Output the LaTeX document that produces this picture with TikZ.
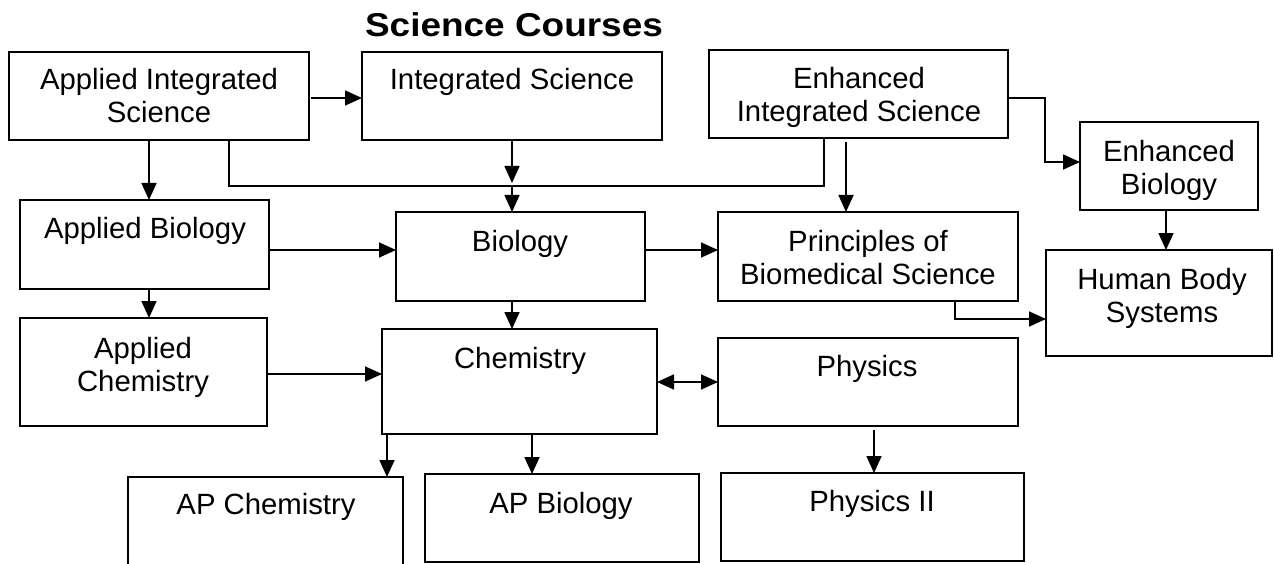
\documentclass[tikz,border=0pt]{standalone}
\usepackage{fontspec}
\setmainfont{Liberation Sans}
\usepackage{graphicx}
\usetikzlibrary{arrows.meta}
\newcommand\coursebox[5]{\node[box, minimum width={(#4)-(#2)}, minimum height={(#5)-(#3)}] (#1) at ({((#2)+(#4))/2},{((#3)+(#5))/2}) {};}
\begin{document}
\begin{tikzpicture}[x=1pt,y=-1pt,
  box/.style={draw, rectangle, line width=2.2pt, inner sep=0pt, outer sep=0pt},
  txt/.style={anchor=north, inner sep=0pt, align=center, font=\fontsize{29.3}{33.5}\selectfont},
  conn/.style={line width=1.7pt},
  tip/.tip={Triangle[length=17pt,width=15pt]},
  arr/.style={conn, -tip},
  darr/.style={conn, tip-tip}]
\useasboundingbox (0,0) rectangle (1274,564);
\clip (0,0) rectangle (1274,564);
\fill[white] (0,0) rectangle (1274,564);
% title
\node[anchor=base, inner sep=0pt] (title) at (514,37) {\fontsize{33}{38}\selectfont\bfseries\scalebox{1.12}[1]{Science Courses}};
% boxes
\coursebox{ais}{9}{52}{309}{140}
\coursebox{is}{362}{52}{662}{140}
\coursebox{eis}{709}{50}{1008}{138}
\coursebox{eb}{1080}{122}{1258}{210}
\coursebox{ab}{20}{200}{269}{289}
\coursebox{bio}{396}{212}{645}{301}
\coursebox{pbs}{718}{212}{1018}{301}
\coursebox{hbs}{1046}{250}{1272}{356}
\coursebox{ac}{20}{318}{267}{426}
\coursebox{chem}{382}{329}{657}{434}
\coursebox{phys}{718}{338}{1018}{426}
\coursebox{apc}{128}{477}{403}{600}
\coursebox{apb}{425}{474}{699}{562}
\coursebox{ptwo}{721}{473}{1024}{561}
% texts
\node[txt] (t-ais) at (159,68) {Applied Integrated\\Science};
\node[txt] (t-is) at (512,68) {Integrated Science};
\node[txt] (t-eis) at (859,67) {Enhanced\\Integrated Science};
\node[txt] (t-eb) at (1169,140) {Enhanced\\Biology};
\node[txt] (t-ab) at (145,217) {Applied Biology};
\node[txt] (t-bio) at (520,230) {Biology};
\node[txt] (t-pbs) at (868,230) {Principles of\\Biomedical Science};
\node[txt] (t-hbs) at (1162,268) {Human Body\\Systems};
\node[txt] (t-ac) at (143,337) {Applied\\Chemistry};
\node[txt] (t-chem) at (520,347) {Chemistry};
\node[txt] (t-phys) at (867,355) {Physics};
\node[txt] (t-apc) at (266,493) {AP Chemistry};
\node[txt] (t-apb) at (561,492) {AP Biology};
\node[txt] (t-ptwo) at (872,490) {Physics II};
% helper coordinates
\coordinate (xa) at (149,0);
\coordinate (jl) at (229,186);
\coordinate (jm) at (512,186);
\coordinate (jr) at (824,186);
\coordinate (xe) at (846,0);
\coordinate (k1) at (1045,98);
\coordinate (k2) at (1045,162);
\coordinate (xb) at (1166,0);
\coordinate (h1) at (0,250);
\coordinate (q) at (955,319);
\coordinate (h2) at (0,374);
\coordinate (h3) at (0,382);
\coordinate (xc) at (387,0);
\coordinate (xd) at (532,0);
\coordinate (xf) at (874,0);
\coordinate (h0) at (0,98);
% connectors
\draw[arr, shorten <=2pt] (ais.east |- h0) -- (is.west |- h0);
\draw[arr] (ais.south -| xa) -- (ab.north -| xa);
\draw[conn] (ais.south -| jl) -- (jl) -- (jr) -- (eis.south -| jr);
\draw[arr, shorten >=3pt] (is.south) -- (jm);
\draw[arr] (jm) -- (bio.north -| jm);
\draw[arr, shorten <=4pt] (eis.south -| xe) -- (pbs.north -| xe);
\draw[arr] (eis.east |- k1) -- (k1) -- (k2) -- (eb.west |- k2);
\draw[arr] (eb.south -| xb) -- (hbs.north -| xb);
\draw[arr] (ab.east |- h1) -- (bio.west |- h1);
\draw[arr] (bio.east |- h1) -- (pbs.west |- h1);
\draw[arr] (pbs.south -| q) -- (q) -- (hbs.west |- q);
\draw[arr] (ab.south -| xa) -- (ac.north -| xa);
\draw[arr] (bio.south -| jm) -- (chem.north -| jm);
\draw[arr] (ac.east |- h2) -- (chem.west |- h2);
\draw[darr] (chem.east |- h3) -- (phys.west |- h3);
\draw[arr] (chem.south -| xc) -- (apc.north -| xc);
\draw[arr] (chem.south -| xd) -- (apb.north -| xd);
\draw[arr, shorten <=4pt] (phys.south -| xf) -- (ptwo.north -| xf);
\end{tikzpicture}
\end{document}
